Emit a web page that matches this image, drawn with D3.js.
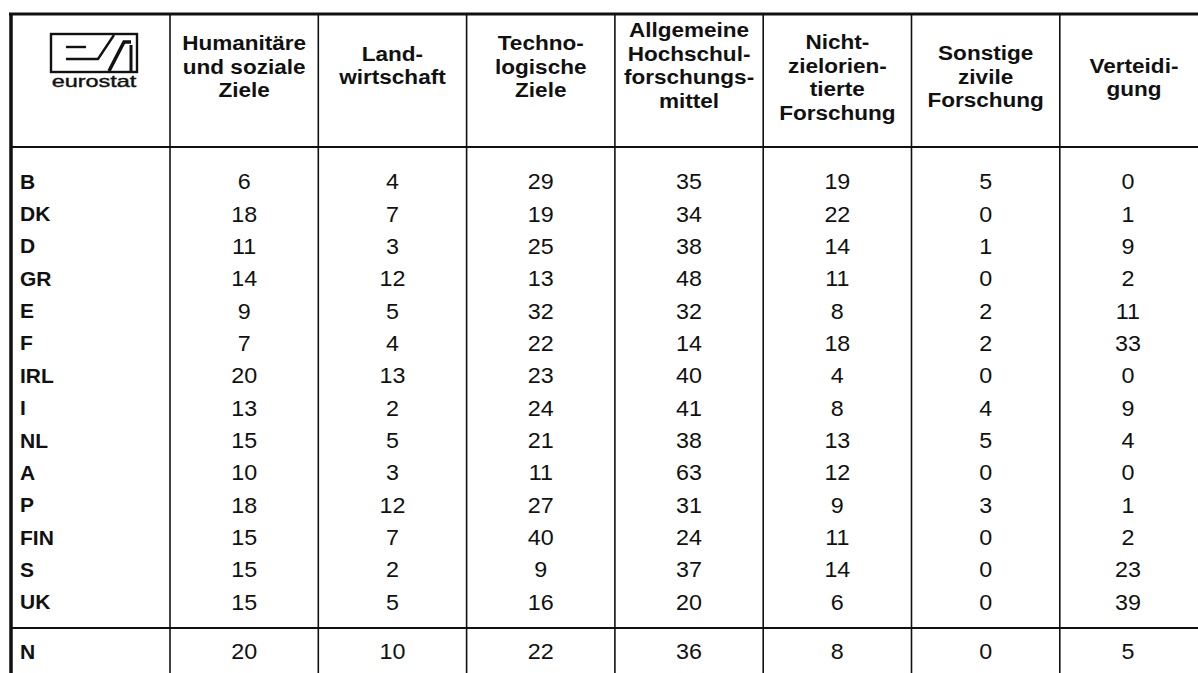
<!DOCTYPE html>
<html>
<head>
<meta charset="utf-8">
<script src="https://cdn.jsdelivr.net/npm/d3@7"></script>
<style>
  body { margin: 0; background: #fff; }
  svg { display: block; }
  text { font-family: "Liberation Sans", Arial, Helvetica, sans-serif; fill: #111; }
</style>
</head>
<body>
<div id="chart"></div>
<script>
// Table data
var countries = ["B", "DK", "D", "GR", "E", "F", "IRL", "I", "NL", "A", "P", "FIN", "S", "UK"];
var extraRow = "N";

var headers = [
	["Humanitäre", "und soziale", "Ziele"],
	["Land-", "wirtschaft"],
	["Techno-", "logische", "Ziele"],
	["Allgemeine", "Hochschul-", "forschungs-", "mittel"],
	["Nicht-", "zielorien-", "tierte", "Forschung"],
	["Sonstige", "zivile", "Forschung"],
	["Verteidi-", "gung"]
];

var humanitaere  = [6, 18, 11, 14, 9, 7, 20, 13, 15, 10, 18, 15, 15, 15];
var landwirtsch  = [4, 7, 3, 12, 5, 4, 13, 2, 5, 3, 12, 7, 2, 5];
var technolog    = [29, 19, 25, 13, 32, 22, 23, 24, 21, 11, 27, 40, 9, 16];
var hochschul    = [35, 34, 38, 48, 32, 14, 40, 41, 38, 63, 31, 24, 37, 20];
var nichtziel    = [19, 22, 14, 11, 8, 18, 4, 8, 13, 12, 9, 11, 14, 6];
var sonstige     = [5, 0, 1, 0, 2, 2, 0, 4, 5, 0, 3, 0, 0, 0];
var verteidigung = [0, 1, 9, 2, 11, 33, 0, 9, 4, 0, 1, 2, 23, 39];

var extraValues = [20, 10, 22, 36, 8, 0, 5];

var columns = [humanitaere, landwirtsch, technolog, hochschul, nichtziel, sonstige, verteidigung];

// layout (note: "top" is taken by window.top, so topY)
var width = 1198, height = 673;
var leftX = 11, topY = 14, headBottom = 147, bodyTop = 165, bodyBottom = 618, sepY = 628, extraY = 651;
var firstCol = 170, colW = 148.3;
// vertical centre of each header block
var headCentre = [66, 65, 66, 65, 77, 76, 77];
var lineH = 23.6;

var svg = d3.select("#chart").append("svg")
	.attr("width", width)
	.attr("height", height);

var x = d3.scaleBand()
	.domain(d3.range(headers.length))
	.range([firstCol, firstCol + colW * headers.length]);

var y = d3.scaleBand()
	.domain(countries)
	.range([bodyTop, bodyBottom]);

// helper: horizontally stretched text, like the scanned original
function stretchText(g, tx, ty, str, sx) {
	return g.append("text")
		.attr("transform", "translate(" + tx + "," + ty + ") scale(" + sx + ",1)")
		.text(str);
}

// grid lines
var grid = svg.append("g").attr("stroke", "#111").attr("fill", "none");
grid.append("line").attr("x1", leftX - 2).attr("x2", width).attr("y1", topY).attr("y2", topY).attr("stroke-width", 3);
grid.append("line").attr("x1", leftX).attr("x2", leftX).attr("y1", topY - 1).attr("y2", height).attr("stroke-width", 3.5);
grid.append("line").attr("x1", leftX).attr("x2", width).attr("y1", headBottom).attr("y2", headBottom).attr("stroke-width", 2);
grid.append("line").attr("x1", leftX).attr("x2", width).attr("y1", sepY).attr("y2", sepY).attr("stroke-width", 2);
grid.selectAll(".vline")
	.data(d3.range(headers.length))
	.enter().append("line")
	.attr("class", "vline")
	.attr("x1", function(d) { return x(d); })
	.attr("x2", function(d) { return x(d); })
	.attr("y1", topY)
	.attr("y2", height)
	.attr("stroke-width", 1.6);

// eurostat logo
var logo = svg.append("g").attr("stroke", "#111").attr("fill", "none").attr("stroke-width", 2.4);
logo.append("rect").attr("x", 51).attr("y", 34).attr("width", 86).attr("height", 38);
logo.append("path").attr("d", "M66,47H86");
logo.append("path").attr("d", "M66,59H98L114,35");
logo.append("path").attr("d", "M109,71L124,42H131").attr("stroke-width", 3.5);
logo.append("path").attr("d", "M131,45V71").attr("stroke-width", 3);
stretchText(logo, 94, 87, "eurostat", 1.38)
	.attr("text-anchor", "middle")
	.attr("stroke", "#111")
	.attr("stroke-width", 0.4)
	.style("font-size", "17px");

// header
var head = svg.append("g")
	.attr("text-anchor", "middle")
	.style("font-size", "20.5px")
	.style("font-weight", "bold");
headers.forEach(function(lines, i) {
	var cx = x(i) + x.bandwidth() / 2;
	var y0 = headCentre[i] - (lines.length - 1) * lineH / 2;
	lines.forEach(function(t, j) {
		stretchText(head, cx, y0 + j * lineH + 7.5, t, 1.1);
	});
});

// row labels
var labels = svg.append("g")
	.style("font-size", "21px")
	.style("font-weight", "bold");
labels.selectAll("text")
	.data(countries)
	.enter().append("text")
	.attr("x", 20)
	.attr("y", function(d) { return y(d) + y.bandwidth() / 2 + 7.5; })
	.text(function(d) { return d; });
labels.append("text")
	.attr("x", 20)
	.attr("y", extraY + 7.5)
	.text(extraRow);

// values
var cells = svg.append("g")
	.attr("text-anchor", "middle")
	.style("font-size", "22px");
columns.forEach(function(vals, i) {
	// last column is cut by the page edge, its figures sit a bit left
	var cx = x(i) + x.bandwidth() / 2 - (i === columns.length - 1 ? 6 : 0);
	vals.forEach(function(v, r) {
		stretchText(cells, cx, y(countries[r]) + y.bandwidth() / 2 + 8, v, 1.06);
	});
	stretchText(cells, cx, extraY + 8, extraValues[i], 1.06);
});
</script>
</body>
</html>
